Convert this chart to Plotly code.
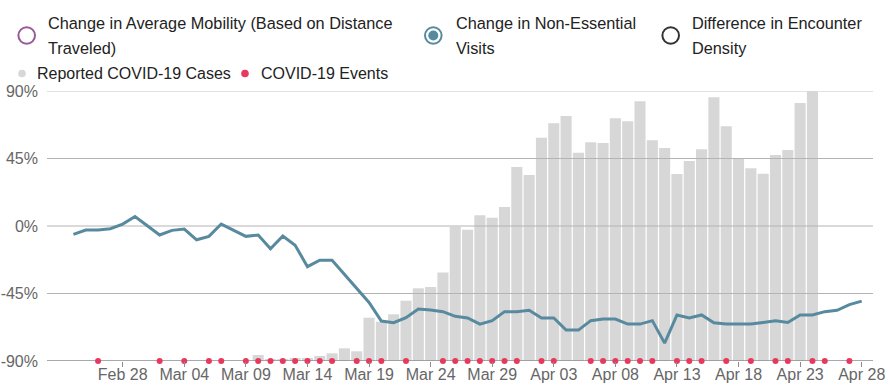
import pandas as pd
import plotly.graph_objects as go

# ---------------- data ----------------
visit_start = "2020-02-24"
visits_change = [
    -5.6, -2.7, -2.7, -1.8, 1.3, 6.3,
    0.2, -6.0, -2.9, -2.0, -9.2, -6.9, 1.3, -2.7, -6.9, -6.0, -15.2, -6.7, -12.8,
    -27.1, -22.8, -22.8, -32.2, -41.2, -51.0, -63.4, -64.5, -61.1, -55.3, -56.0,
    -57.1, -60.2, -61.3, -65.4, -63.1, -57.1, -57.1,
    -56.2, -61.3, -61.3, -69.4, -69.4, -63.1, -62.0, -62.0, -65.4, -65.4, -63.1,
    -78.1, -59.3, -61.3, -59.3, -64.5, -65.4, -65.4, -65.4, -64.3, -63.1, -64.3,
    -59.3, -59.3, -57.1, -56.2, -52.4, -50.1,
]
cases_start = "2020-03-10"
reported_cases = [
    60, 15, 20, 30, 30, 50, 77, 127, 97, 433, 393, 467, 603, 727, 740, 885,
    1343, 1313, 1457, 1433, 1540, 1940,
    1860, 2233, 2377, 2450, 2083, 2187, 2180, 2427, 2397, 2597, 2207, 2130,
    1870, 2000, 2117, 2637, 2347, 2027, 1927, 1873, 2060, 2110, 2580, 2700,
]
event_dates = [
    "2020-02-26", "2020-03-02", "2020-03-04", "2020-03-06", "2020-03-07",
    "2020-03-09", "2020-03-10", "2020-03-11", "2020-03-12", "2020-03-13",
    "2020-03-14", "2020-03-15", "2020-03-16", "2020-03-18", "2020-03-19",
    "2020-03-20", "2020-03-22", "2020-03-25", "2020-03-26", "2020-03-27",
    "2020-03-28", "2020-03-29", "2020-03-30", "2020-03-31", "2020-04-02",
    "2020-04-03", "2020-04-06", "2020-04-07", "2020-04-08", "2020-04-09",
    "2020-04-10", "2020-04-11", "2020-04-13", "2020-04-14", "2020-04-15",
    "2020-04-17", "2020-04-19", "2020-04-21", "2020-04-22", "2020-04-24",
    "2020-04-25", "2020-04-27",
]
x_tick_vals = ["2020-02-28", "2020-03-04", "2020-03-09", "2020-03-14",
               "2020-03-19", "2020-03-24", "2020-03-29", "2020-04-03",
               "2020-04-08", "2020-04-13", "2020-04-18", "2020-04-23",
               "2020-04-28"]
y_tick_vals = [-90, -45, 0, 45, 90]
y_tick_text = ["-90%", "-45%", "0%", "45%", "90%"]
legend_top = [
    ("Change in Average Mobility (Based on Distance", "Traveled)"),
    ("Change in Non-Essential", "Visits"),
    ("Difference in Encounter", "Density"),
]
legend_bottom = ["Reported COVID-19 Cases", "COVID-19 Events"]

# ---------------- style ----------------
W, H = 890, 389
ML, MR, MT, MB = 47, 17, 91, 28
PW, PH = W - ML - MR, H - MT - MB
FONT = "Liberation Sans, Arial, Helvetica, sans-serif"
LINE_C = "#588a9f"
BAR_C = "#d7d7d7"
EVT_C = "#e8385d"
X_RANGE = ["2020-02-21 20:30", "2020-04-28 22:00"]

def px(xp):
    return (xp - ML) / PW

def py(yp):
    return (H - MB - yp) / PH

visit_dates = pd.date_range(visit_start, periods=len(visits_change), freq="D")
case_dates = pd.date_range(cases_start, periods=len(reported_cases), freq="D")

fig = go.Figure()

# bars on main (hidden) axis
fig.add_trace(go.Bar(x=case_dates, y=reported_cases, marker_color=BAR_C,
                     marker_line_width=0, name=legend_bottom[0],
                     yaxis="y", showlegend=False, hoverinfo="skip"))

# gridlines drawn above the bars (from tick values)
gx, gy = [], []
for v in y_tick_vals[1:-1]:
    gx += [X_RANGE[0], X_RANGE[1], None]
    gy += [v, v, None]
fig.add_trace(go.Scatter(x=gx, y=gy, mode="lines", yaxis="y2",
                         line=dict(color="#b4b4b4", width=1),
                         showlegend=False, hoverinfo="skip"))
fig.add_trace(go.Scatter(x=X_RANGE, y=[y_tick_vals[-1]] * 2, mode="lines",
                         yaxis="y2", line=dict(color="#d9d9d9", width=1.5),
                         showlegend=False, hoverinfo="skip", cliponaxis=False))
fig.add_trace(go.Scatter(x=X_RANGE, y=[y_tick_vals[0]] * 2, mode="lines",
                         yaxis="y2", line=dict(color="#8c8c8c", width=1.6),
                         showlegend=False, hoverinfo="skip", cliponaxis=False))

# visits line
fig.add_trace(go.Scatter(x=visit_dates, y=visits_change, mode="lines",
                         yaxis="y2", line=dict(color=LINE_C, width=3),
                         name="Change in Non-Essential Visits",
                         showlegend=False))

# events
fig.add_trace(go.Scatter(x=event_dates, y=[y_tick_vals[0]] * len(event_dates),
                         mode="markers", yaxis="y2", cliponaxis=False,
                         marker=dict(color=EVT_C, size=6, line_width=0),
                         name=legend_bottom[1], showlegend=False))

# ---------------- legend (custom) ----------------
shapes, annotations = [], []
ring_cols = ["#9a5a97", LINE_C, "#333333"]
ring_x = [26.7, 433.3, 670.7]
text_x = [48.3, 455.7, 692.3]
for i, (l1, l2) in enumerate(legend_top):
    shapes.append(dict(type="circle", xref="paper", yref="paper",
                       xsizemode="pixel", ysizemode="pixel",
                       xanchor=px(ring_x[i]), yanchor=py(35.5),
                       x0=-8.3, x1=8.3, y0=-8.3, y1=8.3,
                       line=dict(color=ring_cols[i], width=2),
                       fillcolor="rgba(0,0,0,0)"))
    for txt, yy in ((l1, 23.3), (l2, 47.7)):
        annotations.append(dict(text=txt, xref="paper", yref="paper",
                                x=px(text_x[i] - 2), y=py(yy),
                                xanchor="left", yanchor="middle",
                                showarrow=False,
                                font=dict(family=FONT, size=16.3, color="#222")))
# selected dot
shapes.append(dict(type="circle", xref="paper", yref="paper",
                   xsizemode="pixel", ysizemode="pixel",
                   xanchor=px(ring_x[1]), yanchor=py(35.5),
                   x0=-5, x1=5, y0=-5, y1=5, line_width=0, fillcolor=LINE_C))

dot_x = [22, 245]
dot_text_x = [37.3, 260.7]
dot_cols = [BAR_C, EVT_C]
for i, txt in enumerate(legend_bottom):
    shapes.append(dict(type="circle", xref="paper", yref="paper",
                       xsizemode="pixel", ysizemode="pixel",
                       xanchor=px(dot_x[i]), yanchor=py(73.5),
                       x0=-3.8, x1=3.8, y0=-3.8, y1=3.8, line_width=0,
                       fillcolor=dot_cols[i]))
    annotations.append(dict(text=txt, xref="paper", yref="paper",
                            x=px(dot_text_x[i] - 2), y=py(73.3),
                            xanchor="left", yanchor="middle", showarrow=False,
                            font=dict(family=FONT, size=16, color="#222")))

fig.update_layout(
    width=W, height=H,
    margin=dict(l=ML, r=MR, t=MT, b=MB, pad=0, autoexpand=False),
    paper_bgcolor="white", plot_bgcolor="white",
    font=dict(family=FONT, size=16, color="#666"),
    bargap=0.1,
    showlegend=False,
    shapes=shapes, annotations=annotations,
    xaxis=dict(type="date", range=X_RANGE, tickvals=x_tick_vals,
               tickformat="%b %d", ticks="outside", ticklen=5, tickwidth=1,
               tickcolor="#8c8c8c", showgrid=False, zeroline=False,
               showline=False, automargin=False, ticklabelstandoff=-6,
               tickfont=dict(size=16, color="#666")),
    yaxis=dict(range=[0, 2700], visible=False, fixedrange=True,
               automargin=False),
    yaxis2=dict(overlaying="y", side="left", range=[-90, 90],
                tickvals=y_tick_vals, ticktext=y_tick_text, showgrid=False,
                zeroline=False, showline=False, ticks="", automargin=False,
                ticklabelstandoff=8,
                tickfont=dict(size=16, color="#666")),
)

fig.write_html("out.html", config={"displayModeBar": False},
               post_script="document.body.style.margin='0';")
